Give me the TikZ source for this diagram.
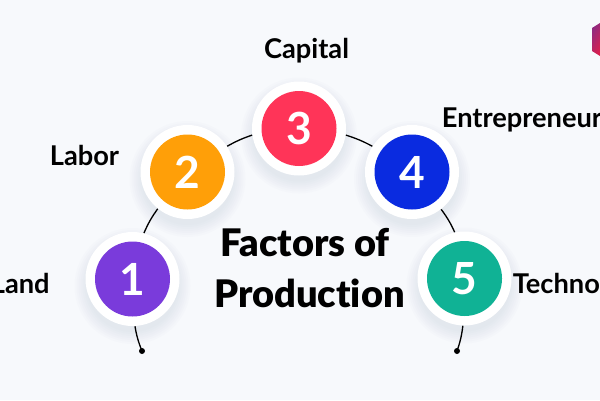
\documentclass[tikz,border=0pt]{standalone}
\usepackage{fontspec}
\setmainfont{Lato}[Ligatures=NoCommon]
\newfontfamily\titlefont{Lato Black}[Ligatures=NoCommon]
\usetikzlibrary{calc}
\definecolor{bg}{HTML}{F7F9FC}
\definecolor{cone}{HTML}{7A3BDB}
\definecolor{ctwo}{HTML}{FF9F08}
\definecolor{cthree}{HTML}{FF3458}
\definecolor{cfour}{HTML}{0A2BE0}
\definecolor{cfive}{HTML}{10B295}
\definecolor{shadowc}{HTML}{B8C4D8}
\definecolor{logoa}{HTML}{D8204F}
\definecolor{logob}{HTML}{8F2A80}
\newcommand{\pxu}{0.5690pt}
\tikzset{
  x=\pxu, y=-\pxu,
  ring/.style={circle,fill=white,minimum size=94*\pxu,inner sep=0pt},
  disc/.style={circle,minimum size=75*\pxu,inner sep=0pt,text=white,font=\fontsize{25.2pt}{25.2pt}\selectfont\bfseries},
  factor/.style={font=\fontsize{15.5pt}{18pt}\selectfont\bfseries,text=black,inner sep=0pt},
  title/.style={font=\titlefont\fontsize{21.6pt}{29pt}\selectfont,text=black,align=center,inner sep=0pt},
  link/.style={draw=black,line width=0.75pt},
  tipdot/.style={circle,fill=black,minimum size=6*\pxu,inner sep=0pt}
}
\newcommand{\softshadow}[2]{%
  \foreach \r in {58,56,54,52,50,48,46}{
    \fill[shadowc,opacity=0.045] (#1,#2+7) circle[radius=\r];
  }%
}
\begin{document}
\begin{tikzpicture}
\useasboundingbox (0,0) rectangle (600,400);
\clip (0,0) rectangle (600,400);
\fill[bg] (0,0) rectangle (600,400);
% logo
\shade[left color=logob,right color=logoa,shading angle=60] (592,28) -- (600,23) -- (600,56) -- (592,51) -- cycle;
% shadows
\softshadow{132.5}{279}
\softshadow{187.5}{172}
\softshadow{299}{128.5}
\softshadow{412}{172}
\softshadow{464.5}{278.5}
% rings
\node[ring] (r1) at (132.5,279) {};
\node[ring] (r2) at (187.5,172) {};
\node[ring] (r3) at (299,128.5) {};
\node[ring] (r4) at (412,172) {};
\node[ring] (r5) at (464.5,278.5) {};
\node[disc,fill=cone] (n1) at (132.5,279) {1};
\node[disc,fill=ctwo] (n2) at (187.5,172) {2};
\node[disc,fill=cthree] (n3) at (299,128.5) {3};
\node[disc,fill=cfour] (n4) at (412,172) {4};
\node[disc,fill=cfive] (n5) at (464.5,278.5) {5};
% connectors
\coordinate (e1) at (142,351);
\coordinate (e5) at (457,351);
\draw[link] (r1.-87) to[bend right=6] (e1);
\draw[link] (r5.-92) to[bend left=6] (e5);
\draw[link] (r1.76) to[bend left=6] (r2.-129);
\draw[link] (r2.33) to[bend left=5] (r3.188.5);
\draw[link] (r3.-8.5) to[bend left=5] (r4.147);
\draw[link] (r4.-52) to[bend left=6] (r5.102);
\node[tipdot] (d1) at (e1) {};
\node[tipdot] (d5) at (e5) {};
% labels
\node[factor,anchor=base] (capital) at (306.5,58.5) {Capital};
\node[factor,anchor=base west] (labor) at (49.5,165) {Labor};
\node[factor,anchor=base west] (land) at (-9.5,293) {Land};
\node[factor,anchor=base west] (entre) at (441.5,127) {Entrepreneurship};
\node[factor,anchor=base west] (tech) at (512.5,293) {Technology};
\node[title,anchor=center] (factors) at (309.5,268) {Factors of\kern 5pt\null\\Production};
\end{tikzpicture}
\end{document}
